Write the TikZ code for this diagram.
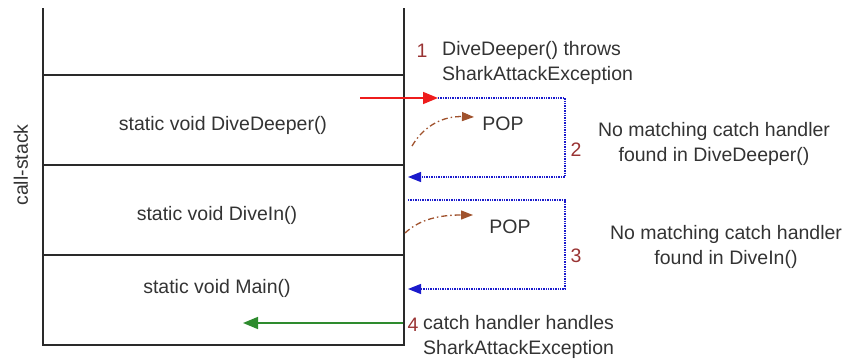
\documentclass[tikz,border=0pt]{standalone}
\usepackage{fontspec}
\setmainfont{Liberation Sans}
\usetikzlibrary{arrows.meta}
\definecolor{txt}{HTML}{333333}
\definecolor{numred}{HTML}{993333}
\definecolor{framec}{HTML}{2A2A2A}
\definecolor{redc}{HTML}{EE1C1C}
\definecolor{bluec}{HTML}{1A1ACC}
\definecolor{greenc}{HTML}{2E8B2E}
\definecolor{brownc}{HTML}{A0522D}
\begin{document}
\begin{tikzpicture}[x=1pt,y=-1pt,
  lbl/.style={font=\fontsize{19.5}{25}\selectfont, text=txt, inner sep=0pt},
  num/.style={lbl, text=numred},
  frame/.style={draw=framec, line width=1.6pt},
  redarr/.style={draw=redc, line width=1.6pt, -{Triangle[length=15pt,width=12pt]}},
  bluearr/.style={draw=bluec, line width=1.4pt, densely dotted, -{Triangle[length=13pt,width=10pt]}},
  greenarr/.style={draw=greenc, line width=1.6pt, -{Triangle[length=15pt,width=12pt]}},
  popcurve/.style={draw=brownc, line width=1.3pt, dash pattern=on 6pt off 3pt on 1.5pt off 3pt, -{Triangle[length=12pt,width=9pt]}}]
\useasboundingbox (0,0) rectangle (848,362);
% call stack frame
\draw[frame] (43,8) -- (43,345) -- (404,345) -- (404,8);
\draw[frame] (43,75) -- (404,75);
\draw[frame] (43,165) -- (404,165);
\draw[frame] (43,255) -- (404,255);
\node[lbl, rotate=90] (cs) at (21,165) {call-stack};
\node[lbl] (dd) at (223,125) {static void DiveDeeper()};
\node[lbl] (di) at (217,215) {static void DiveIn()};
\node[lbl] (mn) at (217,288) {static void Main()};
% step 1
\node[num] (n1) at (422,51) {1};
\node[lbl, anchor=west, align=left] (t1) at (442,63) {DiveDeeper() throws\\SharkAttackException};
\coordinate (r0) at (360,98);
\coordinate (r1) at (438,98);
\draw[redarr] (r0) -- (r1);
% step 2
\coordinate (b1a) at (565,98);
\coordinate (b1b) at (565,177);
\coordinate (b1c) at (408,177);
\draw[bluearr] (r1) -- (b1a) -- (b1b) -- (b1c);
\coordinate (p1s) at (412,146);
\coordinate (p1e) at (474,117);
\draw[popcurve] (p1s) .. controls (425,124) and (445,116) .. (p1e);
\node[lbl] (pop1) at (503,124) {POP};
\node[num] (n2) at (576,150) {2};
\node[lbl, align=center] (t2) at (714,144) {No matching catch handler\\found in DiveDeeper()};
% step 3
\coordinate (b2s) at (408,200);
\coordinate (b2a) at (565,200);
\coordinate (b2b) at (565,289);
\coordinate (b2c) at (408,289);
\draw[bluearr] (b2s) -- (b2a) -- (b2b) -- (b2c);
\coordinate (p2s) at (405,233);
\coordinate (p2e) at (473,215);
\draw[popcurve] (p2s) .. controls (420,219) and (440,215) .. (p2e);
\node[lbl] (pop2) at (510,227) {POP};
\node[num] (n3) at (576,256) {3};
\node[lbl, align=center] (t3) at (726,247) {No matching catch handler\\found in DiveIn()};
% step 4
\coordinate (g0) at (403,323);
\coordinate (g1) at (243,323);
\draw[greenarr] (g0) -- (g1);
\node[num] (n4) at (413,325) {4};
\node[lbl, anchor=west, align=left] (t4) at (423,337) {catch handler handles\\SharkAttackException};
\end{tikzpicture}
\end{document}
